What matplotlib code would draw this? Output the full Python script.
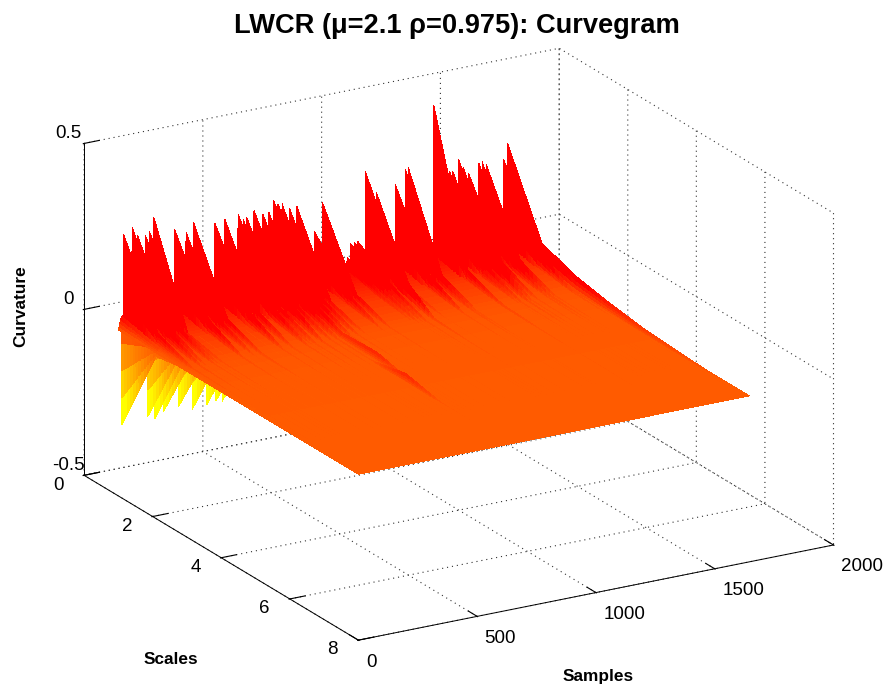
import numpy as np
import matplotlib
matplotlib.use("Agg")
import matplotlib.pyplot as plt
from matplotlib.colors import LinearSegmentedColormap
from matplotlib.text import Text

plt.rcParams['font.family'] = ['Liberation Sans', 'DejaVu Sans']

sample_pos = [15,22,58,81,114, 124,131,149,154,191, 236,254,285,311,316, 373,406,411,437,448,
              504,525,540,571,608, 633,654,672,689,720, 751,825,859,963,977, 994,1008,1040,1086,1166,
              1208,1220,1328,1395,1408, 1433,1451,1475,1517,1531, 1548,1622,1639]
scale1 = [-.288,.286,.301,.272,.268, -.278,.278,.318,-.29,-.272, .270,-.266,.253,-.284,.279, -.278,.264,-.272,-.278,.270,
          .277,.259,.262,.278,.262, .264,.296,.283,.281,.264, .265,.179,.261,.080,.121, .121,.122,.328,.259,.270,
          .310,.315,.486,.277,.275, .308,.282,.259,.285,.288, .278,.281,.326]
scale2 = [-.02,.05,.06,.05,.05, -.02,.04,.03,-.02,-.02, .06,-.02,.05,-.02,.05, -.02,.06,-.02,-.02,.05,
          .06,.04,.05,.07,.05, .06,.07,.05,.06,.05, .04,.05,.045,.03,.04, .04,.05,.09,.03,.06,
          .05,.05,.05,.04,.05, .07,.06,.05,.06,.06, .05,.07,.088]
scale3 = [-.002,.007,.008,.005,.007, -.002,.005,.007,-.002,-.002, .008,-.002,.005,-.002,.009, -.002,.007,-.002,-.002,.007,
          .008,.005,.007,.009,.007, .008,.022,.007,.008,.007, .005,.005,.007,.003,.005, .005,.007,.011,.005,.007,
          .008,.007,.011,.005,.007, .009,.007,.007,.008,.009, .007,.009,.050]
scale4 = [0,.003,.003,.002,.003, 0,.002,.003,0,0, .003,0,.002,0,.003, 0,.003,0,0,.003,
          .003,.002,.003,.003,.003, .004,.026,.003,.003,.003, .002,.002,.003,.001,.002, .002,.003,.004,.002,.003,
          .003,.003,.005,.002,.003, .003,.003,.003,.003,.003, .003,.003,.030]
scale5 = [0,.001,.001,.001,.001, 0,.001,.001,0,0, .001,0,.001,0,.001, 0,.001,0,0,.001,
          .001,.001,.001,.001,.001, .026,.001,.001,.001,.001, .001,.001,.001,.001,.001, .001,.001,.002,.001,.001,
          .001,.001,.002,.001,.001, .001,.001,.001,.001,.001, .001,.001,.015]
scale6 = [0,.001,.001,.001,.001, 0,.001,.001,0,0, .001,0,.001,0,.001, 0,.001,0,0,.001,
          .001,.001,.001,.001,.001, .003,.001,.001,.001,.001, .001,.001,.001,.001,.001, .001,.001,.001,.001,.001,
          .001,.001,.002,.001,.001, .001,.001,.001,.001,.001, .001,.001,.008]
scale7 = [0]*51 + [.001,.003]
scale8 = [0]*53
valley = [.04,.015,.003,.001,.0005,0,0,0]   # between-spike level per scale
first_column = [0,0,0,0,0,0,0,0]            # sample 0
scales = [1,2,3,4,5,6,7,8]
last_sample = 1646

xticks = [0,500,1000,1500,2000]
yticks = [0,2,4,6,8]
zticks = [-0.5,0,0.5]

rows = np.array([scale1,scale2,scale3,scale4,scale5,scale6,scale7,scale8])

# vertex grid: each spike has a narrow base on either side
xs = [0.0]; Zc = [list(first_column)]
for j, xp in enumerate(sample_pos):
    xs += [xp-2, xp, xp+2]
    Zc += [list(valley), list(rows[:, j]), list(valley)]
xs.append(last_sample); Zc.append(list(valley))
xs = np.array(xs, float); Zc = np.array(Zc).T          # (scales, columns)

# refine only for smooth colour shading across each facet
def refine(u, n):
    return np.concatenate([np.linspace(u[i], u[i+1], n, endpoint=False) for i in range(len(u)-1)] + [[u[-1]]])
ny = 8; nx = 4
Xf = refine(xs, nx); Yf = np.concatenate([refine([1,2], 12)[:-1], refine(scales[1:], ny)])
Zx = np.array([np.interp(Xf, xs, r) for r in Zc])
Zf = np.array([np.interp(Yf, scales, Zx[:, i]) for i in range(Zx.shape[1])]).T
X, Y = np.meshgrid(Xf, Yf)

vmin, vmax = -0.22, 0.04
zero = (0 - vmin)/(vmax - vmin)
cmap = LinearSegmentedColormap.from_list('curv', [(0, (1,1,0)), (zero, (1,0.36,0)), (1, (1,0,0))])

W, H = 889, 687
fig = plt.figure(figsize=(8.89,6.87), dpi=100)
ax = fig.add_axes([5/W,-10/H,1,1], projection='3d', proj_type='ortho')
ax.view_init(elev=20.3, azim=-120)
ax.set_box_aspect((1,1,0.645), zoom=1.205)
ax.plot_surface(X, Y, Zf, cmap=cmap, vmin=vmin, vmax=vmax, rstride=1, cstride=1,
                linewidth=0, antialiased=False, shade=False)
ax.set_xlim(0,2000); ax.set_ylim(8,0); ax.set_zlim(-0.5,0.5)
ax.set_xticks(xticks); ax.set_yticks(yticks); ax.set_zticks(zticks)
ax.set_zticklabels(['-0.5','0','0.5'])
ax.tick_params(labelsize=13.5)
ax.tick_params(axis='x', pad=-1)
ax.tick_params(axis='y', pad=3)
ax.tick_params(axis='z', pad=-2.5)
for t in ax.get_xticklabels():
    t.set_ha('left')
for t in ax.get_yticklabels():
    t.set_ha('right'); t.set_va('bottom')
for t in ax.get_zticklabels():
    t.set_va('bottom')
for a in (ax.xaxis, ax.yaxis, ax.zaxis):
    a.set_pane_color((1,1,1,0))
    a.pane.set_edgecolor((1,1,1,0))
    a._axinfo['grid'].update(color='#333333', linestyle=(0,(1,3.5)), linewidth=0.8)
    a._axinfo['tick'].update(inward_factor=0.02, outward_factor=0.4, linewidth={True:0.8, False:0.8}, color='k')
    a._axinfo['label'].update(va='center', ha='center')
    a.line.set_linewidth(0.7)
    a.set_rotate_label(False)
ax.tick_params(axis='both', color='k', width=0.8)
ax.set_xlabel('Samples', fontweight='bold', fontsize=12.4)
ax.set_ylabel('Scales', fontweight='bold', fontsize=12.4)
ax.set_zlabel('Curvature', fontweight='bold', fontsize=12.4, rotation=90)

def place_label(axis, px, py):
    lab = axis.label
    # the 3D axis re-places its label on every draw; keep it at the reference's pixel spot
    lab.set_position = lambda *_: Text.set_position(lab, ax.transData.inverted().transform((px, H-py)))

place_label(ax.xaxis, 598, 677)
place_label(ax.yaxis, 171, 659)
place_label(ax.zaxis, 21, 306)
fig.text(0.514, 0.962, 'LWCR (\u03bc=2.1 \u03c1=0.975): Curvegram', ha='center', va='center', fontsize=19.6, fontweight='bold')
fig.savefig('out.png', dpi=100)
